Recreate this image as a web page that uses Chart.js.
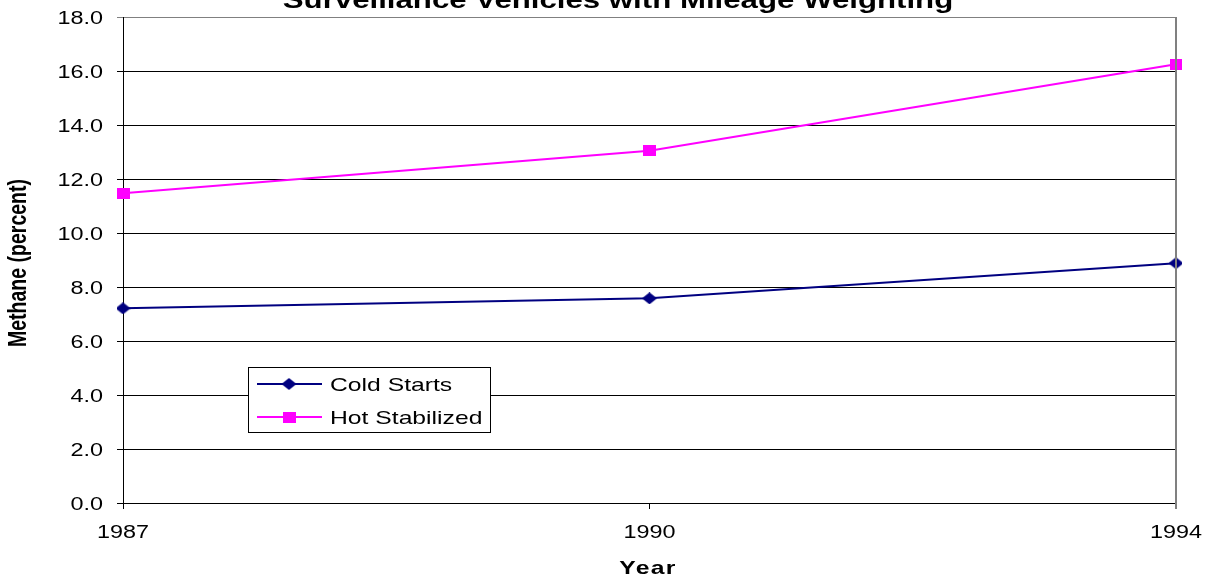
<!DOCTYPE html>
<html>
<head>
<meta charset="utf-8">
<script src="https://cdn.jsdelivr.net/npm/chart.js@4.4.1/dist/chart.umd.min.js"></script>
<style>
  html, body { margin: 0; padding: 0; background: #ffffff; }
  #wrap { width: 1211px; height: 581px; position: relative; }
</style>
</head>
<body>
<div id="wrap"><canvas id="chart"></canvas></div>
<script>
// Methane share by model year, surveillance fleet with mileage weighting
const years = ['1987', '1990', '1994'];
const coldStarts = [7.21, 7.58, 8.88];
const hotStabilized = [11.47, 13.05, 16.25];
const yTicks = [0, 2, 4, 6, 8, 10, 12, 14, 16, 18];

const titleText = 'Surveillance Vehicles with Mileage Weighting';
const yTitleText = 'Methane (percent)';
const xTitleText = 'Year';

const NAVY = '#000080';
const MAGENTA = '#FF00FF';
const FONT = '"Liberation Sans", Arial, Helvetica, sans-serif';
const STRETCH = 1.3; // text in this chart is drawn wide

// marker glyphs (slightly wider than tall)
function diamondMarker(w, h, color) {
  const c = document.createElement('canvas');
  c.width = w; c.height = h;
  const g = c.getContext('2d');
  g.fillStyle = color;
  g.beginPath();
  g.moveTo(w / 2, 0); g.lineTo(w, h / 2); g.lineTo(w / 2, h); g.lineTo(0, h / 2);
  g.closePath(); g.fill();
  return c;
}
function squareMarker(w, h, color) {
  const c = document.createElement('canvas');
  c.width = w; c.height = h;
  const g = c.getContext('2d');
  g.fillStyle = color;
  g.fillRect(0, 0, w, h);
  return c;
}
const coldMarker = diamondMarker(15, 12, NAVY);
const hotMarker = squareMarker(13, 11, MAGENTA);

function wideText(ctx, text, x, y, align, font, sx) {
  ctx.save();
  ctx.translate(x, y);
  ctx.scale(sx, 1);
  ctx.font = font;
  ctx.fillStyle = '#000';
  ctx.textAlign = align;
  ctx.textBaseline = 'alphabetic';
  ctx.fillText(text, 0, 0);
  ctx.restore();
}

const textPlugin = {
  id: 'textPlugin',
  afterDraw(chart) {
    const ctx = chart.ctx;
    const area = chart.chartArea;
    const xs = chart.scales.x;
    const ys = chart.scales.y;

    // plot area border on the right
    ctx.save();
    ctx.strokeStyle = '#808080';
    ctx.lineWidth = 2;
    ctx.beginPath();
    ctx.moveTo(area.right, area.top);
    ctx.lineTo(area.right, area.bottom + 6);
    ctx.stroke();
    ctx.restore();

    // y tick labels
    yTicks.forEach(v => {
      const py = ys.getPixelForValue(v);
      wideText(ctx, v.toFixed(1), area.left - 20, py + 6.5, 'right', '18px ' + FONT, STRETCH);
    });
    // x tick labels
    years.forEach((lab, i) => {
      const px = xs.getPixelForValue(i);
      wideText(ctx, lab, px, 538, 'center', '18px ' + FONT, STRETCH);
    });

    // title (runs off the top edge)
    wideText(ctx, titleText, 618, 8, 'center', 'bold 24px ' + FONT, STRETCH);

    // x axis title
    ctx.save();
    ctx.letterSpacing = '1px';
    wideText(ctx, xTitleText, 648, 574, 'center', 'bold 19px ' + FONT, STRETCH);
    ctx.restore();

    // y axis title, rotated
    ctx.save();
    ctx.translate(26, 263);
    ctx.scale(STRETCH, 1);
    ctx.rotate(-Math.PI / 2);
    ctx.font = 'bold 19.5px ' + FONT;
    ctx.fillStyle = '#000';
    ctx.textAlign = 'center';
    ctx.textBaseline = 'alphabetic';
    ctx.fillText(yTitleText, 0, 0);
    ctx.restore();

    // legend box
    const lx = 248, ly = 367, lw = 242, lh = 65;
    ctx.save();
    ctx.fillStyle = '#fff';
    ctx.fillRect(lx, ly, lw, lh);
    ctx.strokeStyle = '#000';
    ctx.lineWidth = 1;
    ctx.strokeRect(lx + 0.5, ly + 0.5, lw, lh);
    chart.data.datasets.forEach((ds, i) => {
      const cy = 384 + i * 33;
      ctx.strokeStyle = ds.borderColor;
      ctx.lineWidth = ds.borderWidth;
      ctx.beginPath();
      ctx.moveTo(257, cy);
      ctx.lineTo(322, cy);
      ctx.stroke();
      const m = ds.pointStyle;
      ctx.drawImage(m, 289 - m.width / 2, cy - m.height / 2);
      wideText(ctx, ds.label, 330, cy + 7, 'left', '19px ' + FONT, STRETCH);
    });
    ctx.restore();
  }
};

new Chart(document.getElementById('chart'), {
  type: 'line',
  data: {
    labels: years,
    datasets: [
      {
        label: 'Cold Starts',
        data: coldStarts,
        borderColor: NAVY,
        backgroundColor: NAVY,
        borderWidth: 2,
        pointStyle: coldMarker,
        tension: 0
      },
      {
        label: 'Hot Stabilized',
        data: hotStabilized,
        borderColor: MAGENTA,
        backgroundColor: MAGENTA,
        borderWidth: 2,
        pointStyle: hotMarker,
        tension: 0
      }
    ]
  },
  options: {
    responsive: true,
    maintainAspectRatio: false,
    animation: false,
    devicePixelRatio: 1,
    layout: { padding: { top: 17, right: 35, bottom: 0, left: 0 } },
    plugins: {
      legend: { display: false },
      title: { display: false },
      tooltip: { enabled: false }
    },
    scales: {
      x: {
        type: 'category',
        offset: false,
        ticks: { display: false },
        grid: {
          display: true,
          drawOnChartArea: false,
          drawTicks: true,
          tickLength: 6,
          color: '#000',
          lineWidth: 1
        },
        border: { display: true, color: '#000', width: 1 },
        afterFit(scale) { scale.height = 78; }
      },
      y: {
        min: 0,
        max: 18,
        ticks: { display: false, stepSize: 2 },
        afterBuildTicks(scale) { scale.ticks = yTicks.map(v => ({ value: v })); },
        grid: {
          drawOnChartArea: true,
          drawTicks: true,
          tickLength: 6,
          lineWidth: 1,
          color: ctx => (ctx.tick && ctx.tick.value === 18 ? '#808080' : '#000')
        },
        border: { display: true, color: '#000', width: 1 },
        afterFit(scale) { scale.width = 123; }
      }
    }
  },
  plugins: [textPlugin]
});
</script>
</body>
</html>
